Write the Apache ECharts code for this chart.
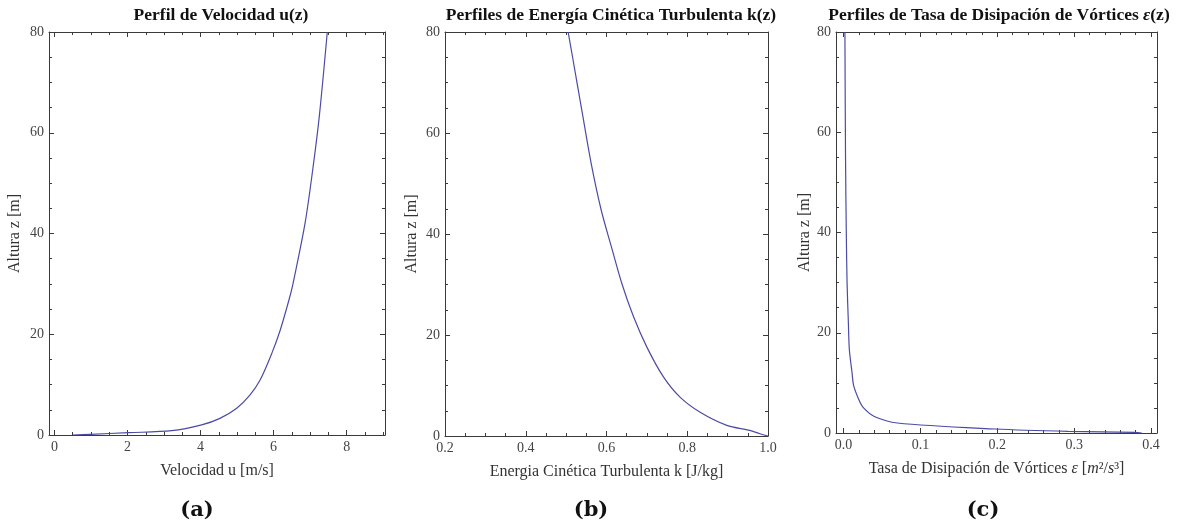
<!DOCTYPE html>
<html>
<head>
<meta charset="utf-8">
<script src="https://cdn.jsdelivr.net/npm/echarts@6/dist/echarts.min.js"></script>
<style>
  html, body { margin: 0; padding: 0; background: #fff; }
  #chart { width: 1186px; height: 525px; }
</style>
</head>
<body>
<div id="chart"></div>
<script>
// (a) velocity profile u(z)
const zVel = [0, 0.14, 0.46, 0.85, 2.0, 3.3, 5.3, 7.9, 10.9, 16.2, 20.8, 26.8, 30, 42, 52.6, 63.2, 80];
const uVel = [0.5, 0.98, 2.03, 3.21, 4.03, 4.53, 4.99, 5.35, 5.63, 5.95, 6.18, 6.42, 6.53, 6.86, 7.07, 7.25, 7.47];

// (b) turbulent kinetic energy k(z)
const zTke = [0, 0.44, 1.1, 2.1, 4.7, 7.7, 11.7, 17.6, 23.6, 30.2, 37.5, 44.7, 54, 64, 75, 80];
const kTke = [1.0, 0.98, 0.955, 0.898, 0.832, 0.782, 0.741, 0.70, 0.667, 0.638, 0.612, 0.587, 0.562, 0.54, 0.516, 0.505];

// (c) dissipation rate eps(z)
const zEps = [0, 0.12, 0.32, 0.8, 2.0, 3.3, 5.0, 6.6, 9.5, 12, 16.6, 22, 30, 40, 55, 80];
const eEps = [0.388, 0.379, 0.292, 0.197, 0.07, 0.04, 0.026, 0.02, 0.013, 0.011, 0.0075, 0.0062, 0.0045, 0.0035, 0.0025, 0.0017];

// ticks
const yMajor = [0, 20, 40, 60, 80];
const yMinor = [5, 10, 15, 25, 30, 35, 45, 50, 55, 65, 70, 75];
const xMajorA = [0, 2, 4, 6, 8];
const xMinorA = [0.5, 1, 1.5, 2.5, 3, 3.5, 4.5, 5, 5.5, 6.5, 7, 7.5, 8.5, 9];
const xMajorB = [0.2, 0.4, 0.6, 0.8, 1.0];
const xMinorB = [0.25, 0.3, 0.35, 0.45, 0.5, 0.55, 0.65, 0.7, 0.75, 0.85, 0.9, 0.95];
const xMajorC = [0, 0.1, 0.2, 0.3, 0.4];
const xMinorC = [0.02, 0.04, 0.06, 0.08, 0.12, 0.14, 0.16, 0.18, 0.22, 0.24, 0.26, 0.28, 0.32, 0.34, 0.36, 0.38];

const serif = "Liberation Serif";
const frame = "#3a3a3a";
const lineColor = "#4b4ba6";

const panels = [
  { grid: { left: 49, top: 32, width: 336, height: 403 }, xMin: -0.15, xMax: 9.05,
    xMajor: xMajorA, xMinor: xMinorA, fmt: (v) => String(Math.round(v)),
    xName: "Velocidad u [m/s]", yNameGap: 26, xs: uVel, zs: zVel },
  { grid: { left: 445, top: 32, width: 323, height: 404 }, xMin: 0.2, xMax: 1.0,
    xMajor: xMajorB, xMinor: xMinorB, fmt: (v) => v.toFixed(1),
    xName: "Energia Cinética Turbulenta k [J/kg]", yNameGap: 25, xs: kTke, zs: zTke },
  { grid: { left: 836, top: 32, width: 321, height: 401 }, xMin: -0.0099, xMax: 0.4078,
    xMajor: xMajorC, xMinor: xMinorC, fmt: (v) => v.toFixed(1),
    xName: "Tasa de Disipación de Vórtices {i|ε} [{i|m}²/{i|s}³]", yNameGap: 23, xs: eEps, zs: zEps },
];

const grids = [], xAxes = [], yAxes = [], series = [];

panels.forEach((p, i) => {
  grids.push(p.grid);
  const base = { type: "value", gridIndex: i, splitLine: { show: false } };
  // x axes: bottom major (labels), bottom minor, top major, top minor
  ["bottom", "top"].forEach((pos) => {
    xAxes.push({
      ...base, position: pos, min: p.xMin, max: p.xMax,
      name: pos === "bottom" ? p.xName : "",
      nameLocation: "middle", nameGap: 28,
      nameTextStyle: { fontFamily: serif, fontSize: 16, color: "#333",
        rich: { i: { fontFamily: serif, fontStyle: "italic", fontSize: 16, color: "#333" } } },
      axisLine: { show: true, onZero: false, lineStyle: { color: frame, width: 1 } },
      axisTick: { show: true, inside: true, length: 5, customValues: p.xMajor, lineStyle: { color: frame } },
      axisLabel: { show: pos === "bottom", customValues: p.xMajor, formatter: p.fmt,
        fontFamily: serif, fontSize: 14, color: "#444", margin: 5 },
    });
    xAxes.push({
      ...base, position: pos, min: p.xMin, max: p.xMax,
      axisLine: { show: false, onZero: false },
      axisTick: { show: true, inside: true, length: 3, customValues: p.xMinor, lineStyle: { color: frame } },
      axisLabel: { show: false, customValues: p.xMinor },
    });
  });
  ["left", "right"].forEach((pos) => {
    yAxes.push({
      ...base, position: pos, min: 0, max: 80,
      name: pos === "left" ? "Altura z [m]" : "",
      nameLocation: "middle", nameGap: p.yNameGap,
      nameTextStyle: { fontFamily: serif, fontSize: 16, color: "#333" },
      axisLine: { show: true, onZero: false, lineStyle: { color: frame, width: 1 } },
      axisTick: { show: true, inside: true, length: 5, customValues: yMajor, lineStyle: { color: frame } },
      axisLabel: { show: pos === "left", customValues: yMajor,
        fontFamily: serif, fontSize: 14, color: "#444", margin: 5 },
    });
    yAxes.push({
      ...base, position: pos, min: 0, max: 80,
      axisLine: { show: false, onZero: false },
      axisTick: { show: true, inside: true, length: 3, customValues: yMinor, lineStyle: { color: frame } },
      axisLabel: { show: false, customValues: yMinor },
    });
  });
  series.push({
    type: "line",
    xAxisIndex: i * 4,
    yAxisIndex: i * 4,
    data: p.xs.map((x, j) => [x, p.zs[j]]),
    showSymbol: false,
    smooth: 0.3,
    lineStyle: { color: lineColor, width: 1.2 },
    silent: true,
  });
});

const titleStyle = {
  fontFamily: serif, fontSize: 17.5, fontWeight: "bold", color: "#111",
  rich: { i: { fontFamily: serif, fontSize: 17.5, fontWeight: "bold", fontStyle: "italic", color: "#111" } },
};
const subStyle = { fontFamily: "DejaVu Serif", fontSize: 21, fontWeight: "bold", color: "#111" };

const chart = echarts.init(document.getElementById("chart"));
chart.setOption({
  backgroundColor: "#fff",
  animation: false,
  title: [
    { text: "Perfil de Velocidad u(z)", left: 216, top: 1, textAlign: "center", textStyle: titleStyle },
    { text: "Perfiles de Energía Cinética Turbulenta k(z)", left: 606, top: 1, textAlign: "center", textStyle: titleStyle },
    { text: "Perfiles de Tasa de Disipación de Vórtices {i|ε}(z)", left: 994, top: 1, textAlign: "center", textStyle: titleStyle },
    { text: "(a)", left: 192, top: 495, textAlign: "center", textStyle: subStyle },
    { text: "(b)", left: 586, top: 495, textAlign: "center", textStyle: subStyle },
    { text: "(c)", left: 978, top: 495, textAlign: "center", textStyle: subStyle },
  ],
  grid: grids,
  xAxis: xAxes,
  yAxis: yAxes,
  series: series,
});
</script>
</body>
</html>
